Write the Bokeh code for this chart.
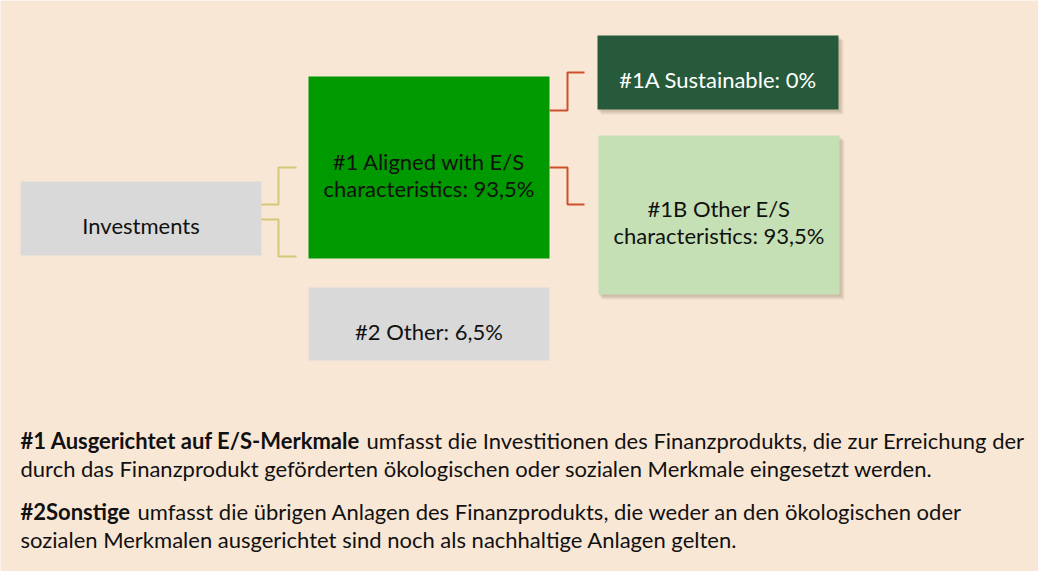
from bokeh.plotting import figure
from bokeh.models import Range1d, ColumnDataSource
from bokeh.core.properties import value
from bokeh.embed import file_html
from bokeh.resources import INLINE

# ---------------- data ----------------
node_names = ["Investments", "#1 Aligned with E/S characteristics", "#2 Other",
              "#1A Sustainable", "#1B Other E/S characteristics"]
node_shares = [None, 93.5, 6.5, 0.0, 93.5]

note_bold = ["#1 Ausgerichtet auf E/S-Merkmale", "#2Sonstige"]
note_text = [
    ["umfasst die Investitionen des Finanzprodukts, die zur Erreichung der",
     "durch das Finanzprodukt geförderten ökologischen oder sozialen Merkmale eingesetzt werden."],
    ["umfasst die übrigen Anlagen des Finanzprodukts, die weder an den ökologischen oder",
     "sozialen Merkmalen ausgerichtet sind noch als nachhaltige Anlagen gelten."],
]

# ---------------- layout (page pixel coordinates) ----------------
W, H = 1038, 571
X0, Y0 = 8, 8
box_l = [28, 316, 316, 605, 606]
box_r = [269, 557, 557, 846, 847]
box_t = [189, 84, 295, 43, 143]
box_b = [263, 266, 368, 117, 302]
box_fill = ["#D9D9D9", "#009900", "#D9D9D9", "#265A3B", "#C5E0B4"]
box_text_color = ["#111111", "#111111", "#111111", "#FFFFFF", "#111111"]
box_shadow = [False, False, False, True, True]
label_break = [None, "E/S ", None, None, "E/S "]
line_gap = 27

BG = "#F9E7D6"
FONT = "Lato"
FS = "22px"

def fmt_share(v):
    if v is None:
        return ""
    s = ("%.1f" % v).replace(".", ",")
    if s.endswith(",0"):
        s = s[:-2]
    return s + "%"

p = figure(width=W, height=H, x_range=Range1d(X0, X0 + W), y_range=Range1d(Y0 + H, Y0),
           output_backend="svg", toolbar_location=None, min_border=0)
p.axis.visible = False
p.grid.visible = False
p.outline_line_color = None
p.background_fill_color = BG
p.border_fill_color = BG

# shadows
idx = [i for i in range(len(node_names)) if box_shadow[i]]
for off in [5, 4, 3, 2]:
    p.quad(left=[box_l[i] + off - 1 for i in idx], right=[box_r[i] + off for i in idx],
           top=[box_t[i] + off for i in idx], bottom=[box_b[i] + off for i in idx],
           fill_color="#5a4030", fill_alpha=0.07, line_color=None)

# boxes
src = ColumnDataSource(dict(l=box_l, r=box_r, t=box_t, b=box_b, c=box_fill))
p.quad(left="l", right="r", top="t", bottom="b", fill_color="c", line_color=None, source=src)

# connectors
def elbow(x1, y1, xm, y2, x2):
    return [x1, xm, xm, x2], [y1, y1, y2, y2]

conn_yellow = [elbow(box_r[0], 212, 286, 175, 304), elbow(box_r[0], 227, 286, 264, 304)]
conn_orange = [elbow(box_r[1], 118, 575, 80, 592), elbow(box_r[1], 175, 575, 212, 592)]
p.multi_line(xs=[c[0] for c in conn_yellow], ys=[c[1] for c in conn_yellow],
             line_color="#D5C67B", line_width=2)
p.multi_line(xs=[c[0] for c in conn_orange], ys=[c[1] for c in conn_orange],
             line_color="#CD4F2B", line_width=2)

# box labels
tx, ty, tt, tc = [], [], [], []
for i, name in enumerate(node_names):
    share = fmt_share(node_shares[i])
    full = name + (": " + share if share else "")
    cx = (box_l[i] + box_r[i]) / 2
    cy = (box_t[i] + box_b[i]) / 2
    if label_break[i]:
        a, b = full.split(label_break[i], 1)
        lines = [a + label_break[i].strip(), b]
    else:
        lines = [full]
    n = len(lines)
    for j, ln in enumerate(lines):
        base = cy + 7 + (j - (n - 1) / 2) * line_gap
        tx.append(cx); ty.append(base); tt.append(ln); tc.append(box_text_color[i])
p.text(x=tx, y=ty, text=tt, text_color=tc, text_align="center", text_baseline="alphabetic",
       text_font=value(FONT), text_font_size=FS)

# notes
note_base = [448, 519]
note_lh = 28
bold_end = [374, 145]
for k in range(2):
    p.text(x=[28], y=[note_base[k]], text=[note_bold[k]], text_font=value(FONT),
           text_font_style="bold", text_font_size=FS, text_color="#111111",
           text_baseline="alphabetic")
    p.text(x=[bold_end[k]], y=[note_base[k]], text=[note_text[k][0]], text_font=value(FONT),
           text_font_size=FS, text_color="#111111", text_baseline="alphabetic")
    p.text(x=[28], y=[note_base[k] + note_lh], text=[note_text[k][1]], text_font=value(FONT),
           text_font_size=FS, text_color="#111111", text_baseline="alphabetic")

open("out.html", "w").write(file_html(p, INLINE))
